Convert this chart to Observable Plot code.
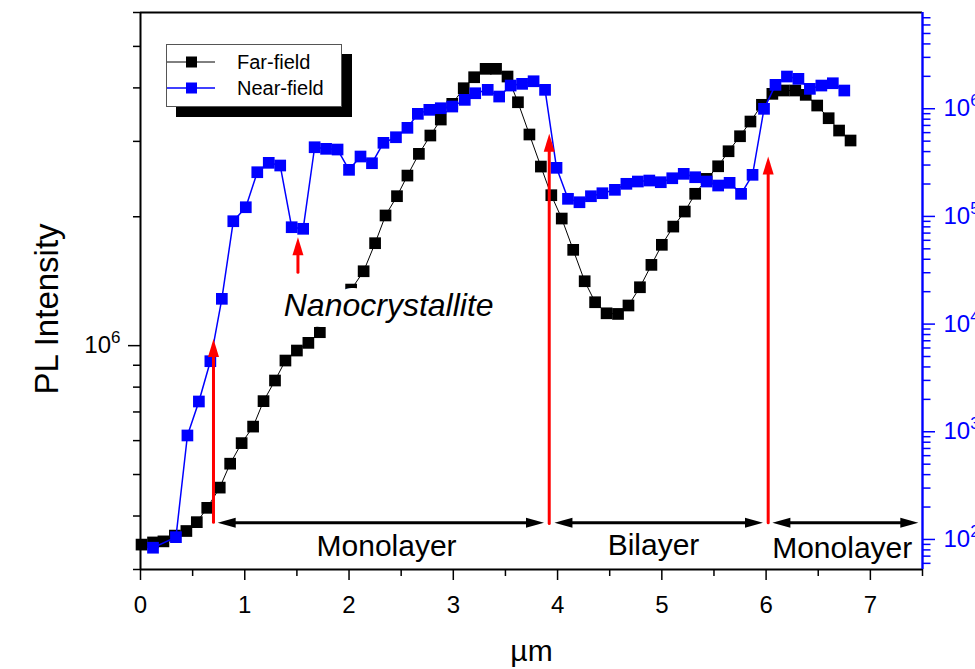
<!DOCTYPE html>
<html>
<head>
<meta charset="utf-8">
<script src="https://cdn.jsdelivr.net/npm/d3@7"></script>
<script src="https://cdn.jsdelivr.net/npm/@observablehq/plot@0.6"></script>
<style>
  body { margin: 0; background: #fff; font-family: "Liberation Sans", Arial, Helvetica, sans-serif; }
  #chart { position: relative; width: 975px; height: 669px; overflow: hidden; background: #fff; }
  #chart svg { position: absolute; left: 0; top: 0; }
  .legend { position: absolute; left: 166px; top: 44px; width: 174px; height: 61px; border: 1px solid #555;
            background: #fff; box-shadow: 10px 10px 0 #000; z-index: 5; }
  .legend .item { position: absolute; left: 0; height: 22px; width: 174px; }
  .legend .item svg { position: absolute; left: 16px; top: 0; }
  .legend .item span { position: absolute; left: 70px; top: 0; line-height: 22px; font-size: 20px; color: #000; white-space: nowrap; }
</style>
</head>
<body>
<div id="chart"></div>
<script>
// ---------- data ----------
const farX = [0.01,0.12,0.22,0.33,0.44,0.54,0.64,0.76,0.86,0.97,
              1.08,1.18,1.29,1.39,1.50,1.61,1.72,1.82,1.92,2.02,
              2.14,2.25,2.35,2.46,2.56,2.67,2.78,2.88,2.99,3.10,
              3.20,3.31,3.41,3.52,3.62,3.73,3.84,3.94,4.04,4.15,
              4.26,4.36,4.47,4.58,4.68,4.79,4.90,5.00,5.11,5.22,
              5.32,5.43,5.54,5.64,5.75,5.85,5.96,6.06,6.17,6.28,
              6.38,6.49,6.60,6.70,6.81];
const farY = [3.43e5,3.47e5,3.49e5,3.60e5,3.69e5,3.87e5,4.18e5,4.66e5,5.30e5,5.92e5,
              6.47e5,7.42e5,8.29e5,9.23e5,9.74e5,1.015e6,1.075e6,1.163e6,1.254e6,1.352e6,
              1.492e6,1.735e6,2.014e6,2.234e6,2.496e6,2.805e6,3.096e6,3.374e6,3.671e6,3.993e6,
              4.236e6,4.432e6,4.432e6,4.252e6,3.703e6,3.113e6,2.62e6,2.246e6,1.981e6,1.674e6,
              1.414e6,1.263e6,1.19e6,1.186e6,1.241e6,1.369e6,1.544e6,1.72e6,1.897e6,2.057e6,
              2.263e6,2.452e6,2.624e6,2.845e6,3.084e6,3.338e6,3.652e6,3.874e6,3.944e6,3.944e6,
              3.853e6,3.638e6,3.398e6,3.18e6,3.014e6];

const nearX = [0.12,0.34,0.45,0.56,0.67,0.78,0.89,1.01,
               1.12,1.23,1.34,1.45,1.56,1.67,1.78,1.89,
               2.00,2.11,2.22,2.33,2.45,2.56,2.66,2.77,2.88,2.99,
               3.11,3.21,3.33,3.44,3.55,3.66,3.77,3.88,3.99,
               4.10,4.21,4.32,4.43,4.55,4.66,4.77,4.88,4.99,
               5.10,5.21,5.32,5.43,5.54,5.65,5.76,5.87,5.98,
               6.09,6.20,6.31,6.42,6.53,6.64,6.75];
const nearY = [83.8,105,924,1911,4524,17170,90240,1.217e5,
               2.573e5,3.146e5,2.97e5,79380,76720,4.39e5,4.243e5,4.18e5,
               2.708e5,3.6e5,3.119e5,4.825e5,5.437e5,6.649e5,8.966e5,9.768e5,1.011e6,1.048e6,
               1.209e6,1.393e6,1.498e6,1.298e6,1.642e6,1.703e6,1.8e6,1.498e6,2.827e5,
               1.457e5,1.354e5,1.54e5,1.642e5,1.766e5,2.008e5,2.109e5,2.154e5,2.078e5,
               2.262e5,2.486e5,2.312e5,2.109e5,1.936e5,2.051e5,1.621e5,2.434e5,9.98e5,
               1.667e6,1.991e6,1.895e6,1.53e6,1.642e6,1.725e6,1.476e6];

// axis ticks
const xMajor = [0,1,2,3,4,5,6,7];
const xMinor = [0.5,1.5,2.5,3.5,4.5,5.5,6.5,7.5];
const leftMajor = [1e6];
const leftMinor = [3e5,4e5,5e5,6e5,7e5,8e5,9e5,2e6,3e6,4e6,5e6,6e6];
const rightMajor = [1e2,1e3,1e4,1e5,1e6];
const rightMinor = [60,70,80,90,200,300,400,500,600,700,800,900,
                    2000,3000,4000,5000,6000,7000,8000,9000,
                    2e4,3e4,4e4,5e4,6e4,7e4,8e4,9e4,
                    2e5,3e5,4e5,5e5,6e5,7e5,8e5,9e5,
                    2e6,3e6,4e6,5e6,6e6,7e6];

// annotations (left-axis units)
const redX = [0.70, 1.51, 3.92, 6.02];
const redBase = [3.87e5, 1.484e6, 3.84e5, 3.86e5];
const redTip = [1.037e6, 1.791e6, 3.125e6, 2.765e6];
const spanStart = [0.74, 3.97, 6.06];
const spanEnd = [3.87, 5.97, 7.46];
const spanY = [3.86e5, 3.86e5, 3.86e5];
const regionText = ["Monolayer", "Bilayer", "Monolayer"];
const regionX = [2.36, 4.92, 6.73];
const regionY = [3.394e5, 3.41e5, 3.352e5];
const noteText = ["Nanocrystallite"];
const noteX = [2.38];
const noteY = [1.24e6];

// ---------- build ----------
const FONT = '"Liberation Sans", Arial, Helvetica, sans-serif';
const BLUE = "#0000ff", RED = "#ff0000";
const frame = {width: 975, height: 669, marginLeft: 140, marginRight: 53, marginTop: 12, marginBottom: 100,
               style: {background: "transparent", fontFamily: FONT, overflow: "visible"}};
const xDomain = [0, 7.5];
const leftDomain = [3e5, 6e6];
const rightDomain = [52.6, 7.83e6];
const SUP = "⁰¹²³⁴⁵⁶⁷⁸⁹";
const pow10 = d => "10" + SUP[Math.round(Math.log10(d))];

const far = farX.map((x, i) => ({x, y: farY[i]}));
const near = nearX.map((x, i) => ({x, y: nearY[i]}));
const reds = redX.map((x, i) => ({x, base: redBase[i], tip: redTip[i]}));
const spans = spanStart.map((s, i) => ({s, e: spanEnd[i], y: spanY[i]}));
const regions = regionText.map((t, i) => ({t, x: regionX[i], y: regionY[i]}));
const notes = noteText.map((t, i) => ({t, x: noteX[i], y: noteY[i]}));

// arrowhead symbol: tip at the anchor point, pointing up
const headRed = {draw(ctx) { ctx.moveTo(0, 0); ctx.lineTo(-5.5, 18); ctx.lineTo(5.5, 18); ctx.closePath(); }};
const headBlack = {draw(ctx) { ctx.moveTo(0, 0); ctx.lineTo(-5, 18); ctx.lineTo(5, 18); ctx.closePath(); }};

// layer 1: left / bottom axes + far-field
const layer1 = Plot.plot({
  ...frame,
  x: {domain: xDomain},
  y: {type: "log", domain: leftDomain},
  marks: [
    Plot.axisX({ticks: xMinor, tickSize: 7, tickFormat: () => "", strokeWidth: 1.5, label: null}),
    Plot.axisX({ticks: xMajor, tickSize: 11, tickPadding: 15, fontSize: 24, strokeWidth: 1.5, label: null}),
    Plot.axisY({ticks: leftMinor, tickSize: 7, tickFormat: () => "", strokeWidth: 1.5, label: null}),
    Plot.axisY({ticks: leftMajor, tickSize: 12, tickPadding: 8, tickFormat: pow10, fontSize: 24, strokeWidth: 1.5, label: null}),
    Plot.ruleY([leftDomain[0]], {stroke: "black", strokeWidth: 2}),
    Plot.ruleY([leftDomain[1]], {stroke: "black", strokeWidth: 2}),
    Plot.ruleX([xDomain[0]], {stroke: "black", strokeWidth: 2}),
    Plot.line(far, {x: "x", y: "y", stroke: "black", strokeWidth: 1}),
    Plot.dot(far, {x: "x", y: "y", symbol: "square", r: 6.6, fill: "black", stroke: "none"}),
    Plot.text(["PL Intensity"], {frameAnchor: "left", textAnchor: "middle", dx: -93, dy: 18, rotate: -90, fontSize: 33, fill: "black"}),
    Plot.text(["µm"], {frameAnchor: "bottom", dy: 91, fontSize: 30, fill: "black"})
  ]
});

// layer 2: right axis + near-field
const layer2 = Plot.plot({
  ...frame,
  x: {domain: xDomain, axis: null},
  y: {type: "log", domain: rightDomain, axis: null},
  marks: [
    Plot.axisY({anchor: "right", ticks: rightMinor, tickSize: 7.5, tickFormat: () => "", color: BLUE, strokeWidth: 1.5, label: null}),
    Plot.axisY({anchor: "right", ticks: rightMajor, tickSize: 12, tickPadding: 9, tickFormat: pow10, color: BLUE, fontSize: 24, strokeWidth: 1.5, label: null}),
    Plot.ruleX([xDomain[1]], {stroke: BLUE, strokeWidth: 2.4}),
    Plot.line(near, {x: "x", y: "y", stroke: BLUE, strokeWidth: 1.5}),
    Plot.dot(near, {x: "x", y: "y", symbol: "square", r: 6.6, fill: BLUE, stroke: "none"})
  ]
});

// layer 3: annotations
const layer3 = Plot.plot({
  ...frame,
  x: {domain: xDomain, axis: null},
  y: {type: "log", domain: leftDomain, axis: null},
  marks: [
    Plot.text(notes, {x: "x", y: "y", text: "t", fontSize: 32, fontStyle: "italic", fill: "black",
                      stroke: "white", strokeWidth: 22}),
    Plot.arrow(reds, {x: "x", y1: "base", y2: "tip", headLength: 0, insetEnd: 12, stroke: RED, strokeWidth: 3}),
    Plot.dot(reds, {x: "x", y: "tip", symbol: headRed, r: 1, fill: RED, stroke: "none"}),
    Plot.arrow(spans, {x1: "s", x2: "e", y: "y", headLength: 0, insetStart: 12, insetEnd: 12, stroke: "black", strokeWidth: 3}),
    Plot.dot(spans, {x: "s", y: "y", symbol: headBlack, r: 1, rotate: -90, fill: "black", stroke: "none"}),
    Plot.dot(spans, {x: "e", y: "y", symbol: headBlack, r: 1, rotate: 90, fill: "black", stroke: "none"}),
    Plot.text(regions, {x: "x", y: "y", text: "t", fontSize: 30, fill: "black"})
  ]
});

// render power-of-ten tick labels with a real superscript
for (const svg of [layer1, layer2]) {
  svg.querySelectorAll("text").forEach(t => {
    const m = /^10([⁰¹²³⁴⁵⁶⁷⁸⁹])$/.exec(t.textContent);
    if (!m) return;
    const exp = String(SUP.indexOf(m[1]));
    t.textContent = "10";
    const ts = document.createElementNS("http://www.w3.org/2000/svg", "tspan");
    ts.setAttribute("font-size", "17");
    ts.setAttribute("dy", "-10");
    ts.textContent = exp;
    t.appendChild(ts);
  });
}

const chart = document.getElementById("chart");
chart.append(layer1, layer2, layer3);

// legend
const legend = document.createElement("div");
legend.className = "legend";
legend.innerHTML = `
  <div class="item" style="top:6px">
    <svg width="50" height="22"><line x1="0" y1="11" x2="48" y2="11" stroke="black" stroke-width="1"/>
    <rect x="19" y="5.5" width="11" height="11" fill="black"/></svg><span>Far-field</span></div>
  <div class="item" style="top:32px">
    <svg width="50" height="22"><line x1="0" y1="11" x2="48" y2="11" stroke="${BLUE}" stroke-width="1.5"/>
    <rect x="19" y="5.5" width="11" height="11" fill="${BLUE}"/></svg><span>Near-field</span></div>`;
chart.append(legend);
</script>
</body>
</html>
